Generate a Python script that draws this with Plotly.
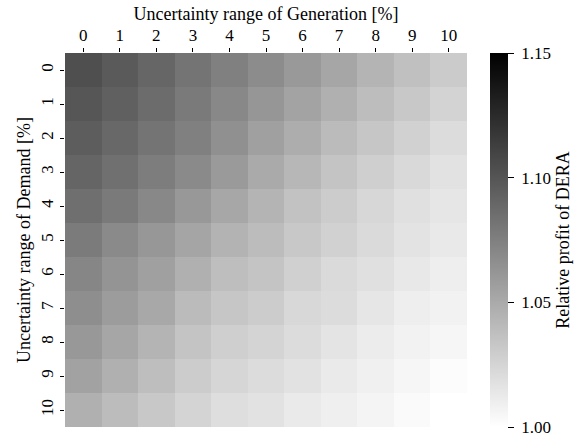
import plotly.graph_objects as go

# Uncertainty ranges [%]
generation_range = [0, 1, 2, 3, 4, 5, 6, 7, 8, 9, 10]
demand_range = [0, 1, 2, 3, 4, 5, 6, 7, 8, 9, 10]

# Relative profit of DERA, rows = demand range, columns = generation range
profit_d0 = [1.1035, 1.0971, 1.0900, 1.0818, 1.0747, 1.0676, 1.0600, 1.0524, 1.0441, 1.0371, 1.0306]
profit_d1 = [1.0994, 1.0935, 1.0865, 1.0782, 1.0700, 1.0618, 1.0541, 1.0465, 1.0388, 1.0324, 1.0259]
profit_d2 = [1.0953, 1.0888, 1.0818, 1.0747, 1.0653, 1.0559, 1.0482, 1.0400, 1.0335, 1.0271, 1.0206]
profit_d3 = [1.0906, 1.0841, 1.0765, 1.0688, 1.0594, 1.0500, 1.0424, 1.0347, 1.0282, 1.0224, 1.0171]
profit_d4 = [1.0847, 1.0782, 1.0700, 1.0606, 1.0520, 1.0440, 1.0359, 1.0300, 1.0235, 1.0182, 1.0147]
profit_d5 = [1.0776, 1.0688, 1.0612, 1.0529, 1.0447, 1.0394, 1.0324, 1.0271, 1.0218, 1.0165, 1.0129]
profit_d6 = [1.0712, 1.0629, 1.0559, 1.0465, 1.0382, 1.0347, 1.0276, 1.0218, 1.0182, 1.0135, 1.0100]
profit_d7 = [1.0665, 1.0582, 1.0512, 1.0400, 1.0335, 1.0300, 1.0229, 1.0206, 1.0147, 1.0100, 1.0076]
profit_d8 = [1.0606, 1.0524, 1.0441, 1.0347, 1.0282, 1.0253, 1.0206, 1.0159, 1.0112, 1.0076, 1.0053]
profit_d9 = [1.0547, 1.0465, 1.0382, 1.0300, 1.0241, 1.0206, 1.0171, 1.0124, 1.0088, 1.0053, 1.0018]
profit_d10 = [1.0465, 1.0394, 1.0324, 1.0253, 1.0194, 1.0171, 1.0124, 1.0094, 1.0065, 1.0029, 1.0000]

profit = [profit_d0, profit_d1, profit_d2, profit_d3, profit_d4, profit_d5,
          profit_d6, profit_d7, profit_d8, profit_d9, profit_d10]

cbar_ticks = [1.00, 1.05, 1.10, 1.15]
cbar_labels = ["1.00", "1.05", "1.10", "1.15"]

FONT = "Liberation Serif, Times New Roman, serif"
TICK_SIZE = 17
TITLE_SIZE = 18

fig = go.Figure(
    go.Heatmap(
        z=profit,
        x=generation_range,
        y=demand_range,
        zmin=1.00,
        zmax=1.15,
        colorscale=[[0.0, "#ffffff"], [1.0, "#000000"]],
        xgap=0,
        ygap=0,
        colorbar=dict(
            title=dict(text="Relative profit of DERA", side="right",
                       font=dict(family=FONT, size=TITLE_SIZE, color="black")),
            thickness=18,
            len=1.0,
            lenmode="fraction",
            x=1.057,
            xanchor="left",
            xpad=0,
            y=0.5,
            yanchor="middle",
            ypad=0,
            outlinewidth=0,
            ticks="outside",
            ticklen=6,
            tickwidth=1,
            tickcolor="black",
            tickvals=cbar_ticks,
            ticktext=["\u00a0" + t for t in cbar_labels],
            tickfont=dict(family=FONT, size=TICK_SIZE, color="black"),
        ),
    )
)

fig.update_layout(
    width=583,
    height=438,
    margin=dict(l=65, r=116, t=53, b=11, autoexpand=False),
    paper_bgcolor="white",
    plot_bgcolor="white",
    font=dict(family=FONT, size=TICK_SIZE, color="black"),
)

fig.update_xaxes(
    side="top",
    tickmode="array",
    tickvals=generation_range,
    ticktext=[str(v) for v in generation_range],
    ticks="outside",
    ticklen=4,
    tickcolor="black",
    showgrid=False,
    zeroline=False,
    showline=False,
    title=dict(text="Uncertainty range of Generation [%]", standoff=0,
               font=dict(family=FONT, size=TITLE_SIZE)),
    tickfont=dict(family=FONT, size=TICK_SIZE),
)

fig.update_yaxes(
    autorange="reversed",
    tickmode="array",
    tickvals=demand_range,
    ticktext=[str(v) for v in demand_range],
    tickangle=-90,
    ticks="outside",
    ticklen=4,
    tickcolor="black",
    showgrid=False,
    zeroline=False,
    showline=False,
    title=dict(text="Uncertainty range of Demand [%]", standoff=2,
               font=dict(family=FONT, size=TITLE_SIZE)),
    tickfont=dict(family=FONT, size=TICK_SIZE),
)

fig.write_html("out.html")
